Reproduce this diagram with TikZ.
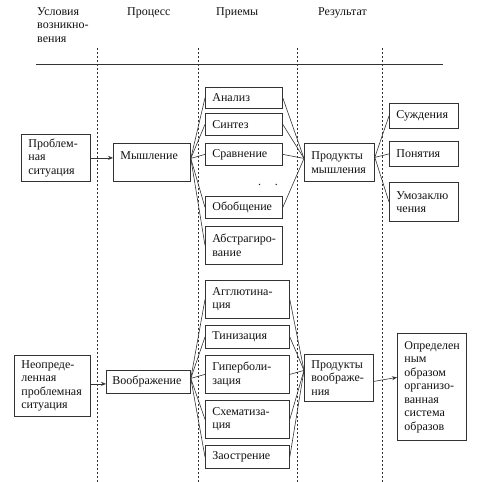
\documentclass[tikz,border=0pt]{standalone}
\usepackage{fontspec}
\setmainfont{Liberation Serif}
\usetikzlibrary{arrows.meta}
\hyphenpenalty=10000
\exhyphenpenalty=10000
\definecolor{linec}{HTML}{333333}
\definecolor{textc}{HTML}{111111}
\begin{document}
\begin{tikzpicture}[x=1pt,y=-1pt,
  fs/.style={font=\fontsize{12pt}{13.5pt}\selectfont, text=textc},
  bx/.style={fs, draw=linec, line width=0.8pt, inner xsep=7pt, inner ysep=2pt, align=left, anchor=north west},
  hdr/.style={fs, inner sep=0pt, align=left, anchor=base west},
  ln/.style={draw=linec, line width=0.6pt},
  arr/.style={ln, -{Stealth[length=5pt,width=4pt]}},
  dsh/.style={draw=linec, line width=0.6pt, dash pattern=on 2pt off 2pt}
]
\useasboundingbox (0,0) rectangle (477,482);

% headers
\node[hdr, anchor=north west] (h1) at (37,7) {Условия\\возникно-\\вения};
\node[hdr] (h2) at (127,15) {Процесс};
\node[hdr] (h3) at (216,15) {Приемы};
\node[hdr] (h4) at (318,15) {Результат};

% rule and column separators
\draw[ln, line width=0.8pt] (36,64) -- (443,64);
\foreach \xx in {97,198,297,382} \draw[dsh] (\xx,48) -- (\xx,482);

% upper part
\node[bx, text width=55pt, minimum width=69pt, minimum height=47pt] (prob) at (21,134) {Проблем-\\ная\\ситуация};
\node[bx, text width=63pt, minimum width=77pt, minimum height=38pt] (mysl) at (113,143) {Мышление\\\mbox{}};
\node[bx, text width=63pt, minimum width=77pt, minimum height=21pt] (analiz) at (205,87) {Анализ};
\node[bx, text width=63pt, minimum width=77pt, minimum height=22pt] (sintez) at (205,113) {Синтез};
\node[bx, text width=63pt, minimum width=77pt, minimum height=22pt] (sravn) at (205,143) {Сравнение};
\node[fs, inner sep=0pt, anchor=base] (dots) at (268,185) {.\hspace{14pt}.};
\node[bx, text width=63pt, minimum width=77pt, minimum height=22pt] (obob) at (205,196) {Обобщение};
\node[bx, text width=63pt, minimum width=77pt, minimum height=38pt] (abstr) at (205,226) {Абстрагиро-\\вание};
\node[bx, text width=56pt, minimum width=70pt, minimum height=38pt] (pm) at (304,143) {Продукты\\мышления};
\node[bx, text width=55pt, minimum width=69pt, minimum height=25pt] (sujd) at (389,103) {Суждения};
\node[bx, text width=55pt, minimum width=69pt, minimum height=25pt] (pon) at (389,141) {Понятия};
\node[bx, text width=55pt, minimum width=69pt, minimum height=39pt] (umoz) at (389,182) {Умозаклю\\чения};

% lower part
\node[bx, text width=62pt, minimum width=76pt, minimum height=61pt] (neopr) at (14,355) {Неопреде-\\ленная\\проблемная\\ситуация};
\node[bx, inner xsep=6pt, text width=72pt, minimum width=84pt, minimum height=23pt] (voobr) at (106,370) {Воображение};
\node[bx, text width=70pt, minimum width=84pt, minimum height=38pt] (aggl) at (205,280) {Агглютина-\\ция};
\node[bx, text width=70pt, minimum width=84pt, minimum height=23pt] (tiniz) at (205,325) {Тинизация};
\node[bx, text width=70pt, minimum width=84pt, minimum height=38pt] (giper) at (205,355) {Гиперболи-\\зация};
\node[bx, text width=70pt, minimum width=84pt, minimum height=38pt] (schem) at (205,400) {Схематиза-\\ция};
\node[bx, text width=70pt, minimum width=84pt, minimum height=23pt] (zaostr) at (205,445) {Заострение};
\node[bx, text width=55pt, minimum width=69pt, minimum height=47pt] (pv) at (304,354) {Продукты\\воображе-\\ния};
\node[bx, text width=55pt, minimum width=69pt, minimum height=107pt] (opr) at (397,333) {Определен\\ным\\образом\\организо-\\ванная\\система\\образов};

% connectors upper
\draw[arr] (prob.east) -- (prob.east -| mysl.west);
\foreach \t in {analiz,sintez,sravn,obob,abstr} \draw[ln] ([yshift=4pt]mysl.east) -- (\t.west);
\foreach \t in {analiz,sintez,sravn,obob} \draw[ln] (\t.east) -- ([yshift=4pt]pm.west);
\foreach \t in {sujd,pon,umoz} \draw[ln] ([yshift=5pt]pm.east) -- (\t.west);

% connectors lower
\draw[arr] ([yshift=2pt]neopr.east) -- ([yshift=2pt]neopr.east -| voobr.west);
\foreach \t in {aggl,tiniz,giper,schem,zaostr} \draw[ln] ([yshift=3.5pt]voobr.east) -- (\t.west);
\foreach \t in {aggl,tiniz,giper,schem,zaostr} \draw[ln] (\t.east) -- ([yshift=7.5pt]pv.west);
\draw[arr] ([yshift=-3.5pt]pv.east) -- ([yshift=9.5pt]opr.west);
\end{tikzpicture}
\end{document}
